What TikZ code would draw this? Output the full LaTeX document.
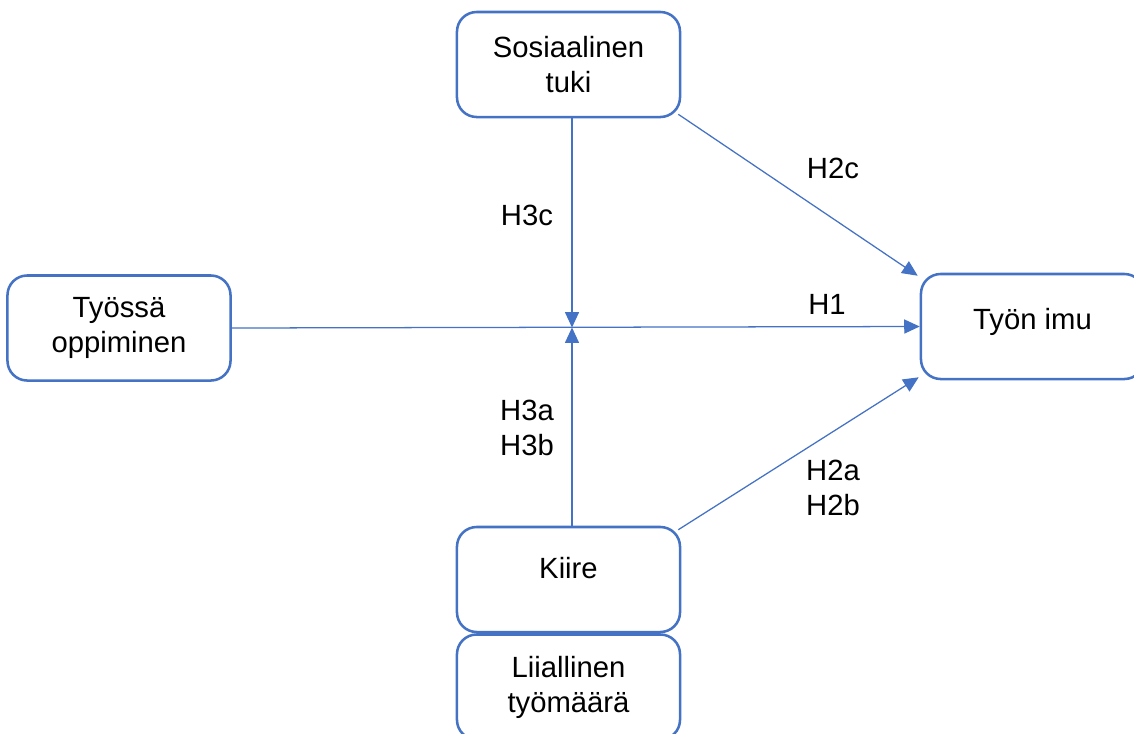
\documentclass[tikz,border=0pt]{standalone}
\usepackage{fontspec}
\setmainfont{Liberation Sans}
\usetikzlibrary{arrows.meta}
\definecolor{malli}{HTML}{4472C4}

\begin{document}
\begin{tikzpicture}[x=0.025cm,y=-0.025cm,
  box/.style={draw=malli,line width=1.8pt,rounded corners=14pt,minimum width=5.575cm,minimum height=2.625cm,align=center,inner sep=0pt,font=\fontsize{20.8}{24.8}\selectfont},
  nuoli/.style={draw=malli,line width=0.9pt,-{Triangle[length=11pt,width=10pt]}},
  hyp/.style={font=\fontsize{20.8}{24.8}\selectfont,align=center}]
\clip (0,0) rectangle (1134,733);
% laatikot
\node[box] (sosiaalinen) at (568.5,64.5) {Sosiaalinen\\tuki};
\node[box] (tyossa) at (119,328) {Työssä\\oppiminen};
\node[box,text depth=11pt] (imu) at (1032.5,326.5) {Työn imu};
\node[box,text depth=17pt] (kiire) at (568.5,579.5) {Kiire};
\node[box] (liiallinen) at (568.5,687) {Liiallinen\\työmäärä};
\coordinate (risteys) at (572,327.5);
% nuolet
\draw[nuoli] (tyossa.east) -- (imu.west);
\draw[nuoli] (risteys |- sosiaalinen.south) -- (risteys);
\draw[nuoli] (risteys |- kiire.north) -- (risteys);
\draw[nuoli] ([shift={(-3,-4)}]sosiaalinen.south east) -- ([shift={(-2,3)}]imu.north west);
\draw[nuoli] ([shift={(-3,4)}]kiire.north east) -- ([shift={(-1,-3)}]imu.south west);
% hypoteesit
\node[hyp] (h2c) at (833,168) {H2c};
\node[hyp] (h3c) at (527,215) {H3c};
\node[hyp] (h1) at (827,304) {H1};
\node[hyp] (h3ab) at (527,428) {H3a\\H3b};
\node[hyp] (h2ab) at (833,488) {H2a\\H2b};
\end{tikzpicture}
\end{document}
